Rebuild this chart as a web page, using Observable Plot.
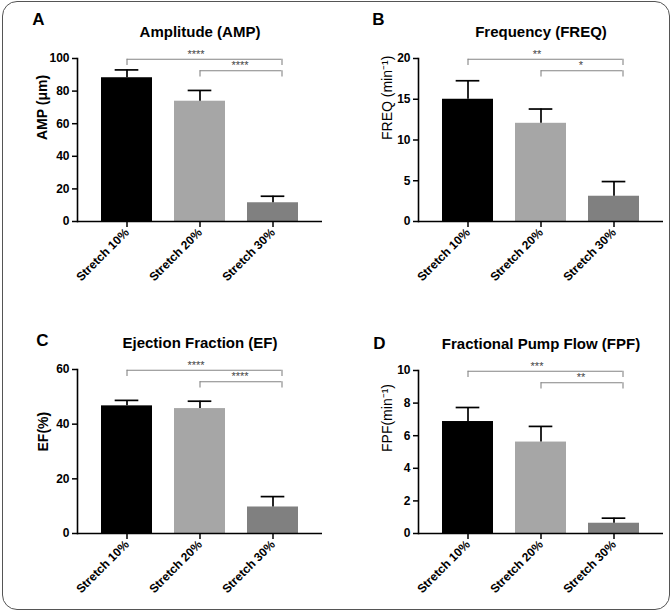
<!DOCTYPE html>
<html><head><meta charset="utf-8">
<script src="https://cdn.jsdelivr.net/npm/d3@7"></script>
<script src="https://cdn.jsdelivr.net/npm/@observablehq/plot@0.6"></script>
<style>
html,body{margin:0;padding:0;background:#fff}
#root{position:relative;width:672px;height:612px;overflow:hidden;font-family:"Liberation Sans",Arial,sans-serif}
#frame{position:absolute;left:2px;top:1px;width:668px;height:609px;border:1.6px solid #555;border-radius:15px;box-sizing:border-box}
.panel{position:absolute}
</style></head><body><div id="root"><div id="frame"></div></div>
<script>
// ---- data ----
const categories = ["Stretch 10%", "Stretch 20%", "Stretch 30%"];
const barColors = ["#000000", "#a6a6a6", "#808080"];
const comparisons = [[0, 2], [1, 2]];

const ampMean = [88.2, 73.8, 11.5];
const ampSD = [4.8, 6.6, 4.0];
const ampSig = ["****", "****"];
const ampTicks = [0, 20, 40, 60, 80, 100];

const freqMean = [15.0, 12.05, 3.1];
const freqSD = [2.27, 1.75, 1.8];
const freqSig = ["**", "*"];
const freqTicks = [0, 5, 10, 15, 20];

const efMean = [46.7, 45.7, 9.7];
const efSD = [2.0, 2.7, 3.8];
const efSig = ["****", "****"];
const efTicks = [0, 20, 40, 60];

const fpfMean = [6.87, 5.61, 0.63];
const fpfSD = [0.86, 0.96, 0.31];
const fpfSig = ["***", "**"];
const fpfTicks = [0, 2, 4, 6, 8, 10];

// ---- panels ----
const panels = [
  {letter: "A", title: "Amplitude (AMP)", ylabel: "AMP (\u03bcm)", ylw: "bold", mean: ampMean, sd: ampSD, sig: ampSig, ticks: ampTicks,
   left: 0, top: 0, mt: 58, mb: 85, ml: 77, mr: 14, ylOff: 35, titleDy: -26, letDx: -39, letDy: -39},
  {letter: "B", title: "Frequency (FREQ)", ylabel: "FREQ (min\u207b\u00b9)", ylw: "normal", mean: freqMean, sd: freqSD, sig: freqSig, ticks: freqTicks,
   left: 336, top: 0, mt: 58, mb: 85, ml: 82, mr: 9, ylOff: 31, titleDy: -26, letDx: -40, letDy: -39},
  {letter: "C", title: "Ejection Fraction (EF)", ylabel: "EF(%)", ylw: "bold", mean: efMean, sd: efSD, sig: efSig, ticks: efTicks,
   left: 0, top: 306, mt: 63, mb: 79, ml: 77, mr: 14, ylOff: 34, titleDy: -26, letDx: -35, letDy: -29},
  {letter: "D", title: "Fractional Pump Flow (FPF)", ylabel: "FPF(min\u207b\u00b9)", ylw: "normal", mean: fpfMean, sd: fpfSD, sig: fpfSig, ticks: fpfTicks,
   left: 336, top: 306, mt: 64, mb: 79, ml: 82, mr: 9, ylOff: 31, titleDy: -26, letDx: -39, letDy: -27}
];

const W = 336, H = 306, PI = 0.3, PO = 0.32;
const FONT = '"Liberation Sans", Arial, sans-serif';

function makePanel(p) {
  const rows = categories.map((c, i) => ({cat: c, mean: p.mean[i], sd: p.sd[i]}));
  const ymax = p.ticks[p.ticks.length - 1];
  const levels = [0.995, 0.925].map(f => f * ymax);
  const tk = 0.038 * ymax;
  const brackets = comparisons.map(([a, b], k) => ({a: categories[a], b: categories[b], y: levels[k], y0: levels[k] - tk, sig: p.sig[k]}));
  const bw = (W - p.ml - p.mr) / (categories.length - PI + 2 * PO) * (1 - PI);
  const rightShift = 9;
  return Plot.plot({
    width: W, height: H,
    marginTop: p.mt, marginBottom: p.mb, marginLeft: p.ml, marginRight: p.mr,
    style: {fontFamily: FONT, background: "transparent", overflow: "visible", color: "#000"},
    x: {domain: categories, paddingInner: PI, paddingOuter: PO, axis: null},
    y: {domain: [0, ymax], axis: null},
    color: {domain: categories, range: barColors},
    marks: [
      Plot.barY(rows, {x: "cat", y: "mean", fill: "cat"}),
      Plot.ruleX(rows, {x: "cat", y1: d => d.mean, y2: d => d.mean + d.sd, stroke: "#000", strokeWidth: 1.7}),
      Plot.tickY(rows, {x: "cat", y: d => d.mean + d.sd, stroke: "#000", strokeWidth: 1.7, inset: (bw - 24) / 2}),
      Plot.ruleY(brackets, {x1: "a", x2: "b", y: "y", stroke: "#858585", strokeWidth: 1.1, insetLeft: bw / 2, insetRight: bw / 2 - rightShift}),
      Plot.ruleX(brackets, {x: "a", y1: "y0", y2: "y", stroke: "#858585", strokeWidth: 1.1}),
      Plot.ruleX(brackets, {x: "b", y1: "y0", y2: "y", stroke: "#858585", strokeWidth: 1.1, dx: rightShift}),
      Plot.text([brackets[0]], {x: () => categories[1], y: "y", text: "sig", dx: -4, dy: -5, fontSize: 11, fill: "#444"}),
      Plot.text([brackets[1]], {x: () => categories[1], y: "y", text: "sig", dx: 40, dy: -5, fontSize: 11, fill: "#444"}),
      Plot.axisY({ticks: p.ticks, tickSize: 5, tickPadding: 3, fontSize: 12, fontWeight: "bold", label: null, strokeWidth: 1.5}),
      Plot.axisX({tickSize: 6, tickRotate: -45, tickPadding: 3, fontSize: 12, fontWeight: "bold", label: null, strokeWidth: 1.5}),
      Plot.ruleY([0], {stroke: "#000", strokeWidth: 1.6}),
      Plot.frame({anchor: "left", stroke: "#000", strokeWidth: 1.6}),
      Plot.text([p.ylabel], {text: d => d, frameAnchor: "left", dx: -p.ylOff, rotate: -90, fontSize: 14, fontWeight: p.ylw, fill: "#000"}),
      Plot.text([p.title], {text: d => d, frameAnchor: "top", dy: p.titleDy, fontSize: 15, fontWeight: "bold", lineAnchor: "middle", textAnchor: "middle", fill: "#000"}),
      Plot.text([p.letter], {text: d => d, frameAnchor: "top-left", dx: p.letDx, dy: p.letDy, fontSize: 17, fontWeight: "bold", lineAnchor: "middle", textAnchor: "middle", fill: "#000"})
    ]
  });
}

const root = document.getElementById("root");
for (const p of panels) {
  const div = document.createElement("div");
  div.className = "panel";
  div.style.left = p.left + "px";
  div.style.top = p.top + "px";
  div.appendChild(makePanel(p));
  root.appendChild(div);
}
</script>
</body></html>
